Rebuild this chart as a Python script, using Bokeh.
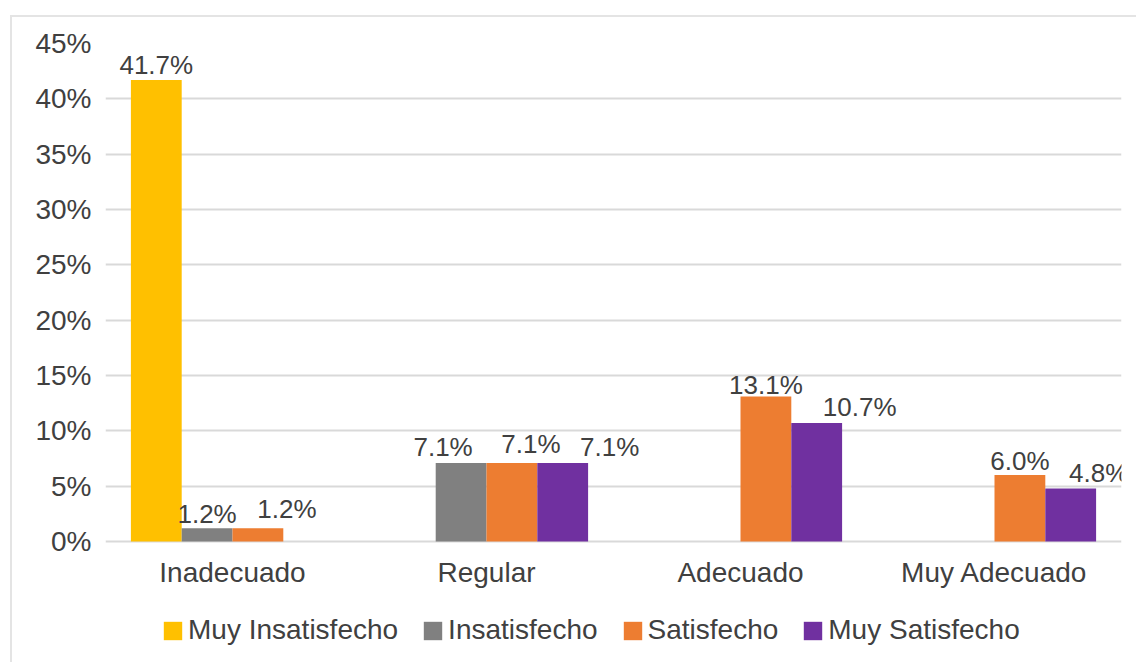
from bokeh.plotting import figure
from bokeh.models import FactorRange, Legend, LegendItem, ColumnDataSource, PrintfTickFormatter, FixedTicker, Grid
from bokeh.transform import dodge
from bokeh.core.properties import value
from bokeh.embed import file_html
from bokeh.resources import INLINE

categories = ["Inadecuado", "Regular", "Adecuado", "Muy Adecuado"]
series_names = ["Muy Insatisfecho", "Insatisfecho", "Satisfecho", "Muy Satisfecho"]
muy_insatisfecho = [41.7, 0.0, 0.0, 0.0]
insatisfecho = [1.2, 7.1, 0.0, 0.0]
satisfecho = [1.2, 7.1, 13.1, 6.0]
muy_satisfecho = [0.0, 7.1, 10.7, 4.8]
y_ticks = [0, 5, 10, 15, 20, 25, 30, 35, 40, 45]

colors = ["#FFC000", "#808080", "#ED7D31", "#7030A0"]
offsets = [-0.3, -0.1, 0.1, 0.3]
series = [muy_insatisfecho, insatisfecho, satisfecho, muy_satisfecho]
# label nudges in screen pixels (layout only)
label_dx = [[0, 0, 0, 0], [0, -18, 0, 0], [29, 19, 0, 0], [0, 47, 43, 28]]
label_gap = [[6, 0, 0, 0], [5, 7, 0, 0], [10, 10, 3, 5], [0, 7, 7, 6]]

FONT = "Liberation Sans"
TXT = "#404040"
FS = "28px"
FS_LAB = "26px"
DESC = 6  # approx. descent of the label font in px

W, H = 1136, 662
TOP, ZERO_Y = 43, 541          # screen rows of 45% and 0%
y_max = 45
y_min = -y_max * (H - ZERO_Y) / (ZERO_Y - TOP)

p = figure(x_range=FactorRange(factors=categories, range_padding=0), y_range=(y_min, y_max),
           width=W, height=H, output_backend="svg", toolbar_location=None,
           x_axis_location=None,
           min_border_left=105, min_border_right=15, min_border_top=TOP, min_border_bottom=0)
p.outline_line_color = None
p.background_fill_color = None
p.border_fill_color = None
p.styles = {
    "background-color": "white",
    "background-image": "linear-gradient(#e4e4e4, #e4e4e4), linear-gradient(#e4e4e4, #e4e4e4)",
    "background-size": "2px 100%, 100% 2px",
    "background-position": "10px 15px, 10px 15px",
    "background-repeat": "no-repeat",
}

p.yaxis.ticker = FixedTicker(ticks=y_ticks)
p.yaxis.formatter = PrintfTickFormatter(format="%d%%")
ax = p.yaxis[0]
ax.axis_line_color = None
ax.major_tick_line_color = None
ax.minor_tick_line_color = None
ax.major_label_text_font = FONT
ax.major_label_text_font_size = FS
ax.major_label_text_color = TXT
ax.major_label_standoff = 8
for g in p.select(type=Grid):
    if g.dimension == 0:
        g.grid_line_color = None
    else:
        g.grid_line_color = "#d9d9d9"
        g.grid_line_width = 2

items = []
for name, vals, col, off, dxs, gaps in zip(series_names, series, colors, offsets, label_dx, label_gap):
    src = ColumnDataSource(dict(cat=categories, val=vals,
                                lab=["%.1f%%" % v if v > 0 else "" for v in vals],
                                dx=dxs, dy=[-(g - DESC) for g in gaps]))
    r = p.vbar(x=dodge("cat", off, range=p.x_range), top="val", width=0.2, source=src,
               fill_color=col, line_color=None)
    p.text(x=dodge("cat", off, range=p.x_range), y="val", text="lab", source=src,
           x_offset="dx", y_offset="dy",
           text_align="center", text_baseline="bottom",
           text_font=value(FONT), text_font_size=FS_LAB, text_color=TXT)
    items.append(LegendItem(label=name, renderers=[r]))

# category labels under the zero line
cat_src = ColumnDataSource(dict(cat=categories, y=[0] * len(categories)))
p.text(x="cat", y="y", text="cat", source=cat_src, y_offset=15,
       text_align="center", text_baseline="top",
       text_font=value(FONT), text_font_size=FS, text_color=TXT)

legend = Legend(items=items, orientation="horizontal", location=(56, 16),
                glyph_width=23, glyph_height=23, label_standoff=4, spacing=23,
                padding=0, margin=0, border_line_color=None, background_fill_alpha=0,
                label_text_font=FONT, label_text_font_size=FS, label_text_color=TXT)
p.add_layout(legend, "center")

open("out.html", "w").write(file_html(p, INLINE))
